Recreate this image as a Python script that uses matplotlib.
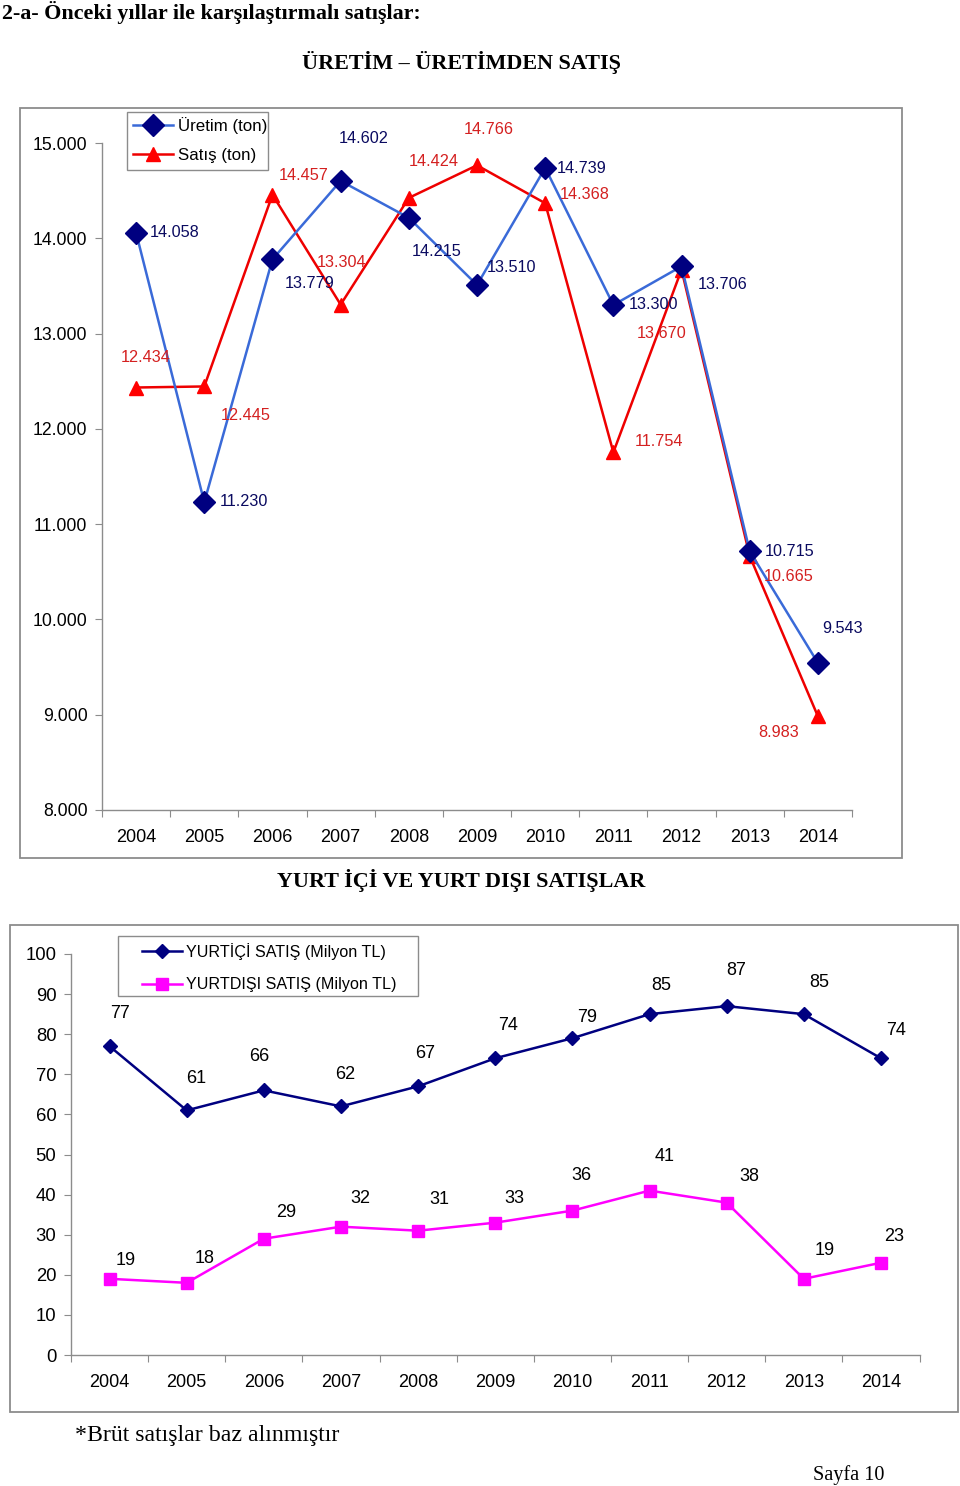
import matplotlib
matplotlib.use("Agg")
import matplotlib.pyplot as plt
from matplotlib.patches import Rectangle
from matplotlib.ticker import FuncFormatter, FixedLocator

years = ["2004", "2005", "2006", "2007", "2008", "2009", "2010", "2011", "2012", "2013", "2014"]
uretim = [14058, 11230, 13779, 14602, 14215, 13510, 14739, 13300, 13706, 10715, 9543]
satis = [12434, 12445, 14457, 13304, 14424, 14766, 14368, 11754, 13670, 10665, 8983]
yurtici = [77, 61, 66, 62, 67, 74, 79, 85, 87, 85, 74]
yurtdisi = [19, 18, 29, 32, 31, 33, 36, 41, 38, 19, 23]

# label offsets in pixels (layout only)
off_ur = [(39, 0), (40, 1), (37, -24), (23, 42), (28, -34), (35, 17), (36, -1), (40, 0), (41, -18), (40, 0), (25, 34)]
off_sa = [(10, 30), (41, -29), (31, 19), (1, 42), (25, 36), (12, 36), (40, 9), (46, 11), (-20, -64), (39, -20), (-39, -16)]
off_yi = [(10, 33), (9, 32), (-5, 34), (4, 32), (7, 33), (13, 33), (15, 21), (12, 29), (10, 36), (15, 32), (15, 28)]
off_yd = [(16, 18), (18, 24), (22, 26), (19, 28), (21, 31), (19, 24), (9, 35), (15, 34), (23, 26), (21, 28), (13, 26)]

W, H = 960, 1486
fig = plt.figure(figsize=(W / 100, H / 100), dpi=100)
SANS = "Liberation Sans"
SERIF = "Liberation Serif"
GRAY = "#8c8c8c"

def fx(px):
    return px / W

def fy(py):
    return 1 - py / H

def box(x0, y0, x1, y1, lw=1.3):
    fig.patches.append(Rectangle((fx(x0), fy(y1)), fx(x1 - x0), (y1 - y0) / H,
                                 transform=fig.transFigure, fill=False,
                                 edgecolor=GRAY, linewidth=lw, zorder=5))

# Texts
fig.text(fx(2), fy(13), "2-a- Önceki yıllar ile karşılaştırmalı satışlar:", family=SERIF,
         weight="bold", fontsize=15.8, ha="left", va="center")
fig.text(fx(461), fy(62), "ÜRETİM – ÜRETİMDEN SATIŞ", family=SERIF, weight="bold",
         fontsize=15.9, ha="center", va="center")
fig.text(fx(461), fy(880), "YURT İÇİ VE YURT DIŞI SATIŞLAR", family=SERIF, weight="bold",
         fontsize=15.9, ha="center", va="center")
fig.text(fx(75), fy(1435), "*Brüt satışlar baz alınmıştır", family=SERIF,
         fontsize=17.2, ha="left", va="center")
fig.text(fx(813), fy(1475), "Sayfa 10", family=SERIF, fontsize=14.6, ha="left", va="center")

box(20, 108, 902, 858)
box(10, 925, 958, 1412)

def style_axis(ax, n, ylab):
    for s in ["top", "right"]:
        ax.spines[s].set_visible(False)
    for s in ["left", "bottom"]:
        ax.spines[s].set_color(GRAY)
        ax.spines[s].set_linewidth(1.0)
    ax.set_xlim(-0.5, n - 0.5)
    ax.xaxis.set_major_locator(FixedLocator([i - 0.5 for i in range(n + 1)]))
    ax.xaxis.set_minor_locator(FixedLocator(list(range(n))))
    ax.set_xticklabels([], minor=False)
    ax.set_xticklabels(years, minor=True)
    ax.tick_params(axis="x", which="major", length=5, color=GRAY, direction="out")
    ax.tick_params(axis="x", which="minor", length=0, pad=13.5, labelsize=13)
    ax.tick_params(axis="y", length=5, color=GRAY, direction="out", pad=5.5, labelsize=ylab)
    for lab in ax.get_xticklabels(minor=True) + ax.get_yticklabels():
        lab.set_family(SANS)
    ax.set_facecolor("none")

x = list(range(len(years)))

# Top chart
ax1 = fig.add_axes([fx(102), fy(810), fx(852 - 102), (810 - 143) / H])
ax1.set_ylim(8000, 15000)
ax1.set_yticks(range(8000, 15001, 1000))
ax1.yaxis.set_major_formatter(FuncFormatter(lambda v, p: f"{int(v):,}".replace(",", ".")))
style_axis(ax1, len(years), 12.7)
l1, = ax1.plot(x, uretim, color="#3a6ad8", lw=1.8, marker="D", ms=11.5,
               mfc="#000080", mec="#000080", label="Üretim (ton)", zorder=3)
l2, = ax1.plot(x, satis, color="#ee0000", lw=1.8, marker="^", ms=10,
               mfc="#ff0000", mec="#ff0000", label="Satış (ton)", zorder=2)
fmt = lambda v: f"{v:,}".replace(",", ".")
for i, v in enumerate(uretim):
    ax1.annotate(fmt(v), (i, v), xytext=off_ur[i], textcoords="offset pixels",
                 ha="center", va="center", fontsize=11.7, color="#0a0a60", family=SANS)
for i, v in enumerate(satis):
    ax1.annotate(fmt(v), (i, v), xytext=off_sa[i], textcoords="offset pixels",
                 ha="center", va="center", fontsize=11.7, color="#d42020", family=SANS)
box(127, 112, 268, 170, lw=1.0)
leg1 = ax1.legend(handles=[l1, l2], loc="upper left", bbox_to_anchor=(fx(133), fy(117)),
                  bbox_transform=fig.transFigure, frameon=False,
                  prop={"family": SANS, "size": 12.2}, handlelength=2.36,
                  handletextpad=0.3, borderpad=0, labelspacing=0.85, borderaxespad=0)

# Bottom chart
ax2 = fig.add_axes([fx(71), fy(1355), fx(919.5 - 71), (1355 - 954) / H])
ax2.set_ylim(0, 100)
ax2.set_yticks(range(0, 101, 10))
style_axis(ax2, len(years), 13.3)
l3, = ax2.plot(x, yurtici, color="#000080", lw=1.8, marker="D", ms=7,
               mfc="#000080", mec="#000080", label="YURTİÇİ SATIŞ (Milyon TL)", zorder=3)
l4, = ax2.plot(x, yurtdisi, color="#ff00ff", lw=1.8, marker="s", ms=8.5,
               mfc="#ff00ff", mec="#ff00ff", label="YURTDIŞI SATIŞ (Milyon TL)", zorder=3)
for i, v in enumerate(yurtici):
    ax2.annotate(str(v), (i, v), xytext=off_yi[i], textcoords="offset pixels",
                 ha="center", va="center", fontsize=13, color="black", family=SANS)
for i, v in enumerate(yurtdisi):
    ax2.annotate(str(v), (i, v), xytext=off_yd[i], textcoords="offset pixels",
                 ha="center", va="center", fontsize=13, color="black", family=SANS)
box(118, 936, 418, 996, lw=1.0)
leg2 = ax2.legend(handles=[l3, l4], loc="upper left", bbox_to_anchor=(fx(142), fy(943)),
                  bbox_transform=fig.transFigure, frameon=False,
                  prop={"family": SANS, "size": 11.6}, handlelength=2.5,
                  handletextpad=0.25, borderpad=0, labelspacing=1.07, borderaxespad=0)

fig.savefig("out.png", dpi=100, facecolor="white")
